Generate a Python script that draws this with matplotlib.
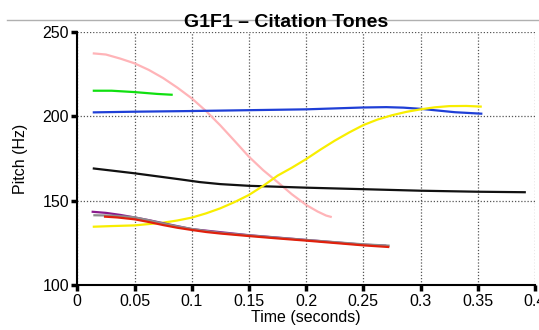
import numpy as np
import matplotlib
matplotlib.use("Agg")
import matplotlib.pyplot as plt
from matplotlib.lines import Line2D

plt.rcParams['font.family'] = ['Liberation Sans', 'DejaVu Sans']

# pitch tracks (time in s, pitch in Hz)
pink_t = [0.0135, 0.025, 0.0375, 0.05, 0.0625, 0.075, 0.0875, 0.1, 0.1125, 0.125,
          0.1375, 0.15, 0.1625, 0.175, 0.1875, 0.2, 0.21, 0.2175, 0.2224]
pink_hz = [237.1, 236.4, 234.0, 231.2, 227.3, 222.5, 216.8, 210.5, 203.0, 194.5,
           185.3, 176.0, 168.0, 161.0, 153.8, 147.5, 143.6, 141.2, 140.3]

green_t = [0.0135, 0.03, 0.05, 0.07, 0.0834]
green_hz = [215.0, 215.0, 214.2, 213.1, 212.6]

blue_t = [0.0135, 0.05, 0.1, 0.15, 0.2, 0.25, 0.27, 0.285, 0.3, 0.315, 0.33, 0.354]
blue_hz = [202.2, 202.6, 203.0, 203.5, 204.0, 205.1, 205.3, 205.0, 204.3, 203.3, 202.3, 201.4]

black_t = [0.0135, 0.03, 0.05, 0.07, 0.09, 0.107, 0.125, 0.15, 0.2, 0.25, 0.3, 0.35, 0.392]
black_hz = [169.1, 167.8, 166.2, 164.4, 162.6, 161.0, 159.8, 158.8, 157.7, 156.8, 155.9,
            155.3, 155.0]

yellow_t = [0.0135, 0.03, 0.05, 0.075, 0.0875, 0.1, 0.1125, 0.125, 0.1375, 0.15, 0.1625,
            0.175, 0.1875, 0.2, 0.2125, 0.225, 0.2375, 0.25, 0.2625, 0.275, 0.2875, 0.3,
            0.3125, 0.325, 0.34, 0.3535]
yellow_hz = [134.6, 135.0, 135.4, 137.0, 138.3, 140.0, 142.5, 145.5, 149.2, 153.4, 158.8,
             164.8, 169.5, 174.6, 180.2, 185.5, 190.3, 194.7, 198.0, 200.5, 202.5, 204.0,
             205.2, 205.9, 206.0, 205.6]

purple_t = [0.0125, 0.025, 0.0375, 0.05, 0.0625, 0.075, 0.1, 0.15, 0.2, 0.25, 0.27]
purple_hz = [143.5, 142.8, 141.6, 140.1, 138.5, 136.7, 133.2, 129.6, 126.8, 124.0, 123.4]

gray_t = [0.014, 0.03, 0.05, 0.0625, 0.075, 0.0875, 0.1, 0.1125, 0.125, 0.15, 0.175,
          0.2, 0.225, 0.25, 0.273]
gray_hz = [141.4, 141.2, 140.2, 138.4, 136.5, 134.8, 133.3, 132.1, 131.0, 129.5, 128.1,
           126.8, 125.5, 124.2, 123.4]

red_t = [0.0233, 0.035, 0.05, 0.0625, 0.075, 0.0875, 0.1, 0.1125, 0.125, 0.15, 0.175,
         0.2, 0.225, 0.25, 0.2727]
red_hz = [140.6, 140.1, 139.0, 137.4, 135.6, 134.0, 132.7, 131.5, 130.6, 129.1, 127.7,
          126.4, 125.0, 123.6, 122.6]

xticks = [0, 0.05, 0.1, 0.15, 0.2, 0.25, 0.3, 0.35, 0.4]
xtick_labels = ['0', '0.05', '0.1', '0.15', '0.2', '0.25', '0.3', '0.35', '0.4']
yticks = [100, 150, 200, 250]

fig = plt.figure(figsize=(5.39, 3.30), dpi=100)
ax = fig.add_axes([0.1434, 0.1355, 0.8492, 0.769])

tracks = [
    (pink_t, pink_hz, '#ffb4b8'),
    (green_t, green_hz, '#10e010'),
    (blue_t, blue_hz, '#1f3fd6'),
    (black_t, black_hz, '#111111'),
    (yellow_t, yellow_hz, '#f8ee00'),
    (purple_t, purple_hz, '#8a1a8c'),
    (gray_t, gray_hz, '#8c8c8c'),
    (red_t, red_hz, '#e0200c'),
]
for t, hz, c in tracks:
    ax.plot(t, hz, color=c, lw=1.6, solid_capstyle='butt', solid_joinstyle='round')

ax.set_xlim(0, 0.4)
ax.set_ylim(100, 250)
ax.set_xticks(xticks)
ax.set_xticklabels(xtick_labels)
ax.set_yticks(yticks)
ax.grid(True, linestyle=(0, (1, 1.5)), color='#555555', lw=0.9)
ax.set_axisbelow(True)

for s in ['top', 'right']:
    ax.spines[s].set_visible(False)
ax.spines['left'].set_linewidth(1.5)
ax.spines['bottom'].set_linewidth(1.5)
ax.tick_params(direction='out', length=4, width=2.5, labelsize=11.5, pad=2)

ax.set_xlabel('Time (seconds)', fontsize=11.5, labelpad=1)
ax.set_ylabel('Pitch (Hz)', fontsize=11.5, labelpad=10)

# horizontal rule behind the title
fig.add_artist(Line2D([0.013, 1.0], [0.938, 0.938], color='#b0b0b0', lw=1))
fig.text(0.531, 0.918, 'G1F1 \u2013 Citation Tones', ha='center', va='baseline',
         fontsize=14, fontweight='bold')

fig.savefig('out.png', dpi=100)
